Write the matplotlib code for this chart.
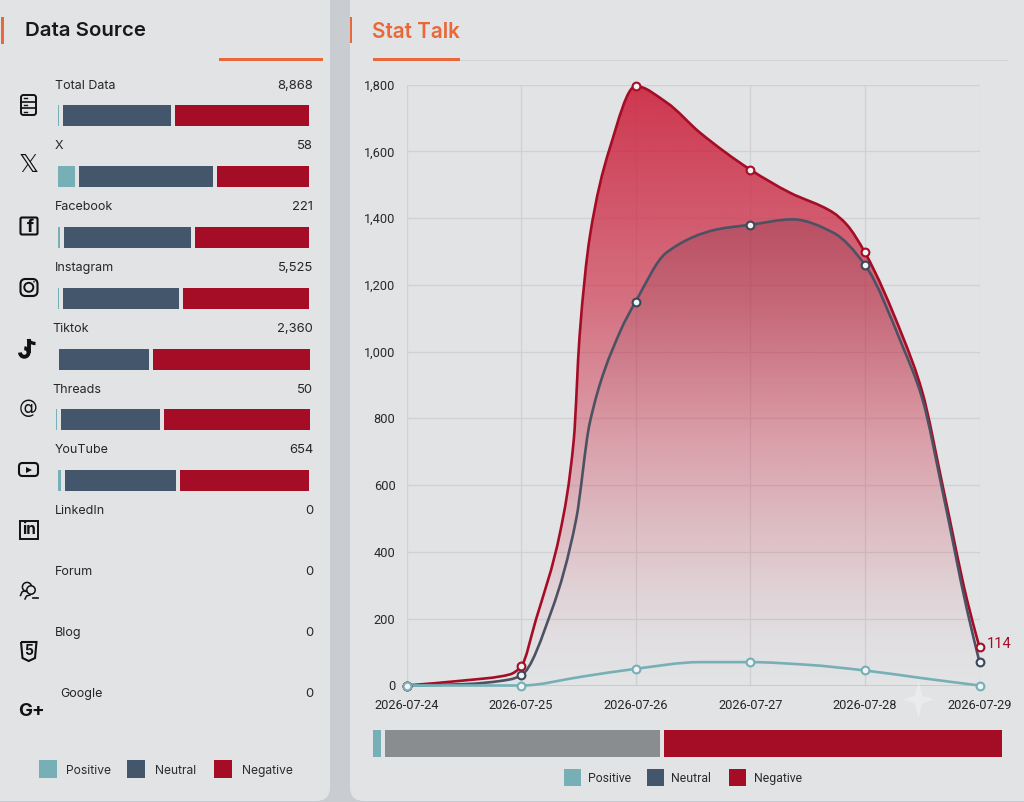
import numpy as np
import matplotlib
matplotlib.use("Agg")
import matplotlib.pyplot as plt
from matplotlib.patches import FancyBboxPatch, PathPatch, Rectangle, Circle, Arc
from matplotlib.path import Path
from matplotlib.colors import LinearSegmentedColormap

# ---------- data ----------
sources = ["Total Data", "X", "Facebook", "Instagram", "Tiktok", "Threads", "YouTube",
           "LinkedIn", "Forum", "Blog", "Google"]
source_totals = ["8,868", "58", "221", "5,525", "2,360", "50", "654", "0", "0", "0", "0"]
share_positive = [0.6, 7.0, 1.0, 0.6, 0.0, 0.4, 1.2]
share_neutral = [44.4, 55.1, 52.2, 47.6, 36.4, 40.2, 45.7]
share_negative = [55.0, 37.9, 46.8, 51.8, 63.6, 59.4, 53.1]
legend_names = ["Positive", "Neutral", "Negative"]

dates = ["2026-07-24", "2026-07-25", "2026-07-26", "2026-07-27", "2026-07-28", "2026-07-29"]
day_index = [0, 1, 2, 3, 4, 5]
positive_daily = [0, 0, 50, 70, 45, 0]
neutral_daily = [0, 30, 1150, 1380, 1260, 70]
negative_daily = [0, 57, 1795, 1545, 1297, 114]

negative_days = [0, .5, .9, 1, 1.13, 1.34, 1.46, 1.51, 1.60, 1.77, 2,
                 2.27, 2.56, 3, 3.34, 3.72, 3.84, 4, 4.33, 4.5, 4.68, 4.89, 5]
negative_curve = [0, 15, 33, 57, 198, 458, 737, 1045, 1345, 1605, 1795,
                  1746, 1656, 1545, 1477, 1417, 1381, 1297, 1045, 880, 596, 258, 114]
neutral_days = [0, .5, .9, 1, 1.27, 1.48, 1.60, 1.86, 2, 2.27, 2.71, 3, 3.37, 3.72, 4, 4.33, 4.5, 4.68, 4.89, 5]
neutral_curve = [0, 4, 18, 30, 228, 497, 788, 1057, 1150, 1297, 1366, 1380, 1396, 1357, 1260, 1015, 860, 578, 228, 70]
positive_days = [0, 1, 1.54, 2, 2.56, 3, 3.5, 4, 4.5, 5]
positive_curve = [0, 0, 27, 50, 70, 70, 62, 45, 22, 0]

summary_shares = [1.3, 44.3, 54.4]
y_ticks = [0, 200, 400, 600, 800, 1000, 1200, 1400, 1600, 1800]

# ---------- style ----------
W, H = 1024, 802
C_POS, C_NEU, C_NEG = "#76b0b6", "#43566b", "#a50d27"
C_GRAY = "#898d90"
C_ORANGE = "#e8683a"
C_PANEL, C_BACK = "#e2e3e5", "#c9ccd1"
FONT = ["Inter", "DejaVu Sans"]
TICK_FONT = ["Roboto", "DejaVu Sans"]

fig = plt.figure(figsize=(W / 100, H / 100), dpi=100, facecolor=C_BACK)
bg = fig.add_axes([0, 0, 1, 1], zorder=0)
bg.set_xlim(0, W)
bg.set_ylim(H, 0)
bg.axis("off")

for x0, x1 in [(-20, 330), (350, 1060)]:
    bg.add_patch(FancyBboxPatch((x0, -20), x1 - x0, H + 19,
                                boxstyle="round,pad=0,rounding_size=14", fc=C_PANEL, ec="none"))
bg.add_patch(FancyBboxPatch((350, -1), 30, 20, boxstyle="round,pad=0,rounding_size=12", fc=C_PANEL, ec="none"))
bg.add_patch(FancyBboxPatch((-20, -1), 350, 20, boxstyle="round,pad=0,rounding_size=12", fc=C_PANEL, ec="none"))

# headers
bg.add_patch(Rectangle((1, 17), 2.6, 27, fc=C_ORANGE, ec="none"))
bg.add_patch(Rectangle((350, 17), 2.4, 26, fc=C_ORANGE, ec="none"))
bg.text(25, 31.5, "Data Source", fontsize=14.7, family=FONT, weight="semibold", color="#17191c", va="center")
bg.text(372.5, 31.5, "Stat Talk", fontsize=14.9, family=FONT, weight="semibold", color=C_ORANGE, va="center")
bg.add_patch(Rectangle((219, 58.2), 103.5, 2.4, fc=C_ORANGE, ec="none"))
bg.add_patch(Rectangle((459, 59.6), 549, 1, fc="#cfd1d4", ec="none"))
bg.add_patch(Rectangle((373, 58.4), 86.5, 2.2, fc=C_ORANGE, ec="none"))

# source rows
label_x = [55, 55, 55, 55, 52, 52, 55, 55, 55, 55, 60]
label_y = [86, 146, 207, 268, 329, 390, 450, 511, 572, 633, 694]
bar_y = [105, 166, 227, 288, 349, 409, 470]
bar_x0 = [58, 58, 58, 58, 59, 56, 58]
bar_x1 = [309, 309, 309, 309, 310, 310, 309]
GAP = 4
for i, (name, tot) in enumerate(zip(sources, source_totals)):
    bg.text(label_x[i], label_y[i], name, fontsize=9, family=FONT, color="#24272a", va="center")
    bg.text(313, label_y[i], tot, fontsize=9.4, family=FONT, color="#24272a", va="center", ha="right")
for i in range(len(share_neutral)):
    span = bar_x1[i] - bar_x0[i] - (2 * GAP if share_positive[i] else GAP)
    x = bar_x0[i]
    for v, c in zip((share_positive[i], share_neutral[i], share_negative[i]), (C_POS, C_NEU, C_NEG)):
        if v:
            w = span * v / 100
            bg.barh(bar_y[i] + 10.5, w, height=21, left=x, color=c)
            x += w + GAP


def box_icon(cx, cy):
    bg.add_patch(FancyBboxPatch((cx - 7.5, cy - 10), 15, 20, boxstyle="round,pad=0,rounding_size=2.5",
                                fc="none", ec="#111", lw=1.4))
    for dy in (-3.4, 3.4):
        bg.plot([cx - 7.5, cx + 7.5], [cy + dy, cy + dy], color="#111", lw=1.2)
    for dy in (-6.7, 0, 6.7):
        bg.plot([cx - 4.5, cx - 1.5], [cy + dy, cy + dy], color="#111", lw=1)


ic = dict(color="#111", ha="center", va="center")
box_icon(28.5, 105)
bg.text(28.5, 165, "\U0001D54F", fontsize=18, family=["DejaVu Sans"], **ic)
bg.add_patch(FancyBboxPatch((20.5, 217.5), 17, 17, boxstyle="round,pad=0,rounding_size=1.5", fc="none", ec="#111", lw=1.5))
bg.text(30, 227.5, "f", fontsize=13, family=FONT, weight="bold", **ic)
bg.add_patch(FancyBboxPatch((20.5, 279), 17, 17, boxstyle="round,pad=0,rounding_size=5", fc="none", ec="#111", lw=1.5))
bg.add_patch(Circle((28.8, 287.3), 4.5, fc="none", ec="#111", lw=1.4))
bg.add_patch(Circle((34, 281.8), 0.8, fc="#111", ec="none"))
# tiktok note
bg.add_patch(Arc((24.3, 352.5), 8.5, 8.5, theta1=-90, theta2=180, ec="#111", lw=2.8))
bg.plot([28.5, 28.5], [339, 352.5], color="#111", lw=2.8, solid_capstyle="butt")
bg.add_patch(Arc((35.5, 339), 14, 9, theta1=90, theta2=180, ec="#111", lw=2.4))
# threads
bg.text(28, 408.5, "@", fontsize=13.5, family=["DejaVu Sans"], **ic)
bg.add_patch(FancyBboxPatch((19, 463), 19, 13, boxstyle="round,pad=0,rounding_size=3.5", fc="none", ec="#111", lw=1.5))
bg.plot([29], [469.5], marker=">", ms=5, color="#111", mew=0)
bg.add_patch(Rectangle((20, 521), 17.5, 17.5, fc="none", ec="#111", lw=1.4))
bg.text(28.8, 530, "in", fontsize=11, family=FONT, weight="bold", **ic)
# forum
bg.add_patch(Circle((27, 587), 4.6, fc=C_PANEL, ec="#111", lw=1.1, zorder=1))
bg.add_patch(Circle((31, 590), 4.2, fc=C_PANEL, ec="#111", lw=1.1, zorder=2))
bg.plot([20.5, 22, 25], [595.5, 592, 590.5], color="#111", lw=1.1)
bg.plot([25, 26.5, 30], [599, 596, 595], color="#111", lw=1.1)
bg.plot([33, 37.5], [597.5, 597.5], color="#111", lw=1.2)
bg.add_patch(PathPatch(Path([(21, 642), (36.5, 642), (35, 658), (28.7, 661), (22.5, 658), (21, 642)], closed=False),
                       fc="none", ec="#111", lw=1.5))
bg.text(28.7, 651, "5", fontsize=10, family=FONT, weight="bold", **ic)
bg.text(31.5, 712, "G+", fontsize=13.5, family=FONT, weight="bold", **ic)

# legends
for xs, ts, y, s, fs, f, dy in [((39, 127, 214), (66, 155, 242), 760, 17.5, 8.7, FONT, 1.8),
                                ((564, 647, 729), (588, 671, 754), 769, 17, 8.8, TICK_FONT, 0.8)]:
    for sx, tx, c, n in zip(xs, ts, (C_POS, C_NEU, C_NEG), legend_names):
        bg.add_patch(Rectangle((sx, y), s, s, fc=c, ec="none"))
        bg.text(tx, y + s / 2 + dy, n, fontsize=fs, family=f, color="#2a2d30", va="center")

# summary bar
sx0, sx1, sgap = 373, 1002, 4
sspan = sx1 - sx0 - 2 * sgap
x = sx0
for v, c in zip(summary_shares, (C_POS, C_GRAY, C_NEG)):
    w = sspan * v / 100
    bg.barh(743.5, w, height=27, left=x, color=c)
    x += w + sgap

# ---------- chart ----------
ax = fig.add_axes([406.5 / W, 1 - 685.5 / H, (979.5 - 406.5) / W, (685.5 - 84.5) / H], zorder=2)
ax.patch.set_alpha(0)
ax.set_xlim(0, 5)
ax.set_ylim(0, 1800)
for s in ax.spines.values():
    s.set_visible(False)
ax.set_xticks(day_index, dates)
ax.set_yticks(y_ticks, [f"{v:,}" for v in y_ticks])
ax.tick_params(length=0, labelsize=9.2, labelcolor="#26292c")
for t in ax.get_xticklabels() + ax.get_yticklabels():
    t.set_family(TICK_FONT)
ax.tick_params(axis="x", pad=9.5)
ax.tick_params(axis="y", pad=8)
ax.grid(True, color="#cfd1d4", lw=0.9)
ax.set_axisbelow(True)
ax.axhline(0, color="#c3c5c8", lw=1.1, zorder=1)


def smooth_path(xs, ys, close=False):
    """Bezier path through the read-off points (shape-preserving tangents)."""
    p = np.column_stack([xs, ys]).astype(float)
    n = len(p)
    hs = np.diff(p[:, 0])
    d = np.diff(p[:, 1]) / hs
    m = np.zeros(n)
    m[0], m[-1] = d[0], d[-1]
    for i in range(1, n - 1):
        if d[i - 1] * d[i] > 0:
            w1, w2 = 2 * hs[i] + hs[i - 1], hs[i] + 2 * hs[i - 1]
            m[i] = (w1 + w2) / (w1 / d[i - 1] + w2 / d[i])
    verts, codes = [tuple(p[0])], [Path.MOVETO]
    for i in range(n - 1):
        h = hs[i] / 3
        verts += [(p[i, 0] + h, p[i, 1] + m[i] * h), (p[i + 1, 0] - h, p[i + 1, 1] - m[i + 1] * h), tuple(p[i + 1])]
        codes += [Path.CURVE4] * 3
    if close:
        verts += [(p[-1, 0], 0), (p[0, 0], 0), (p[0, 0], 0)]
        codes += [Path.LINETO, Path.LINETO, Path.CLOSEPOLY]
    return Path(verts, codes)


def gradient_fill(xs, ys, rgb, stops, z):
    cmap = LinearSegmentedColormap.from_list("g", [(pos, (*rgb, a)) for pos, a in stops])
    im = ax.imshow(np.linspace(0, 1, 256)[:, None], extent=[0, 5, 0, 1800], origin="lower", aspect="auto",
                   cmap=cmap, zorder=z, vmin=0, vmax=1, interpolation="bilinear")
    clip = PathPatch(smooth_path(xs, ys, close=True), transform=ax.transData, fc="none", ec="none")
    ax.add_patch(clip)
    im.set_clip_path(clip)


gradient_fill(negative_days, negative_curve, (0.80, 0.14, 0.24),
              [(0, 0), (.07, 0.02), (.16, 0.09), (.31, 0.25), (.64, 0.60), (1, 0.90)], 2)
gradient_fill(neutral_days, neutral_curve, (0.35, 0.15, 0.22),
              [(0, 0), (.42, 0), (.6, 0.10), (.8, 0.22), (1, 0.24)], 3)
ax.set_xlim(0, 5)
ax.set_ylim(0, 1800)

for xs, ys, c, z in [(negative_days, negative_curve, C_NEG, 5),
                     (neutral_days, neutral_curve, "#4c5264", 6),
                     (positive_days, positive_curve, C_POS, 7)]:
    ax.add_patch(PathPatch(smooth_path(xs, ys), fc="none", ec=c, lw=1.9, zorder=z, clip_on=False))
for ys, c, z in [(negative_daily, C_NEG, 8), (neutral_daily, "#3b4656", 9), (positive_daily, C_POS, 10)]:
    ax.plot(day_index, ys, ls="none", marker="o", ms=5.6, mfc="#f0f2f4", mec=c, mew=1.5, zorder=z, clip_on=False)
ax.annotate(f"{negative_daily[-1]}", (5, negative_daily[-1]), xytext=(5, 2.2), textcoords="offset points",
            fontsize=10.5, color=C_NEG, family=TICK_FONT, va="center", annotation_clip=False)

# faint sparkle
star = Path([(0, 1), (.2, .2), (.8, 0), (.2, -.2), (0, -1), (-.2, -.2), (-.8, 0), (-.2, .2), (0, 1)])
top = fig.add_axes([0, 0, 1, 1], zorder=3)
top.set_xlim(0, W)
top.set_ylim(H, 0)
top.axis("off")
top.plot([918], [699], marker=star, ms=27, color="white", alpha=.3, mew=0)

fig.savefig("out.png", dpi=100, facecolor=fig.get_facecolor())
